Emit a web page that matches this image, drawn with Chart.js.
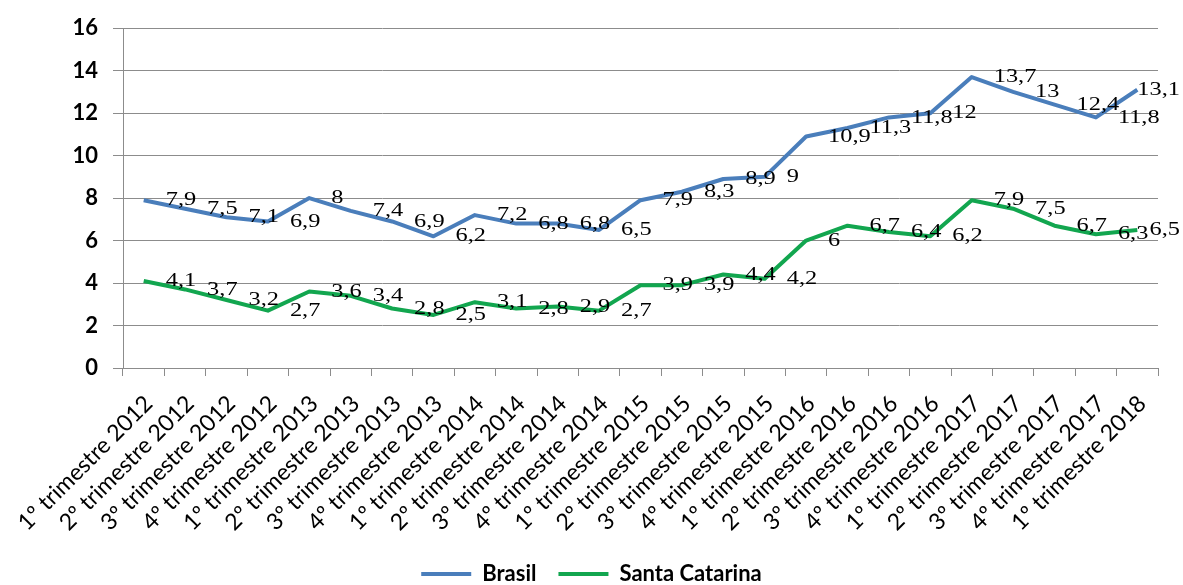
<!DOCTYPE html>
<html>
<head>
<meta charset="utf-8">
<title>Brasil x Santa Catarina</title>
<script src="https://cdn.jsdelivr.net/npm/chart.js@4/dist/chart.umd.min.js"></script>
<style>
  html, body { margin: 0; padding: 0; background: #fff; }
  #wrap { width: 1183px; height: 585px; position: relative; }
</style>
</head>
<body>
<div id="wrap"><canvas id="myChart"></canvas></div>
<script>
// quarters on the x axis
const categories = [
    '1º trimestre 2012', '2º trimestre 2012', '3º trimestre 2012', '4º trimestre 2012',
    '1º trimestre 2013', '2º trimestre 2013', '3º trimestre 2013', '4º trimestre 2013',
    '1º trimestre 2014', '2º trimestre 2014', '3º trimestre 2014', '4º trimestre 2014',
    '1º trimestre 2015', '2º trimestre 2015', '3º trimestre 2015', '4º trimestre 2015',
    '1º trimestre 2016', '2º trimestre 2016', '3º trimestre 2016', '4º trimestre 2016',
    '1º trimestre 2017', '2º trimestre 2017', '3º trimestre 2017', '4º trimestre 2017',
    '1º trimestre 2018'
];

const brasil = [7.9, 7.5, 7.1, 6.9, 8, 7.4, 6.9, 6.2, 7.2, 6.8, 6.8, 6.5,
    7.9, 8.3, 8.9, 9, 10.9, 11.3, 11.8, 12, 13.7, 13, 12.4, 11.8, 13.1];

const santaCatarina = [4.1, 3.7, 3.2, 2.7, 3.6, 3.4, 2.8, 2.5, 3.1, 2.8, 2.9, 2.7,
    3.9, 3.9, 4.4, 4.2, 6, 6.7, 6.4, 6.2, 7.9, 7.5, 6.7, 6.3, 6.5];

// y axis range
const yMin = 0;
const yMax = 16;
const yStep = 2;

const GRID = '#8c8c8c';

// value next to every point, written with a decimal comma
const valueLabels = {
    id: 'valueLabels',
    afterDatasetsDraw(chart) {
        const ctx = chart.ctx;
        const stretch = 1.25;
        ctx.save();
        ctx.font = '19.5px "Liberation Serif"';
        ctx.fillStyle = '#000';
        ctx.textBaseline = 'middle';
        ctx.textAlign = 'left';
        chart.data.datasets.forEach((ds, i) => {
            chart.getDatasetMeta(i).data.forEach((pt, j) => {
                const txt = String(ds.data[j]).replace('.', ',');
                const w = ctx.measureText(txt).width * stretch;
                let x = pt.x + 22;
                if (x + w > chart.width - 3) x = chart.width - 3 - w;
                ctx.save();
                ctx.translate(x, pt.y);
                ctx.scale(stretch, 1);
                ctx.fillText(txt, 0, 0);
                ctx.restore();
            });
        });
        ctx.restore();
    }
};

const ctx = document.getElementById('myChart');
new Chart(ctx, {
    type: 'line',
    data: {
        labels: categories,
        datasets: [{
            label: 'Brasil',
            data: brasil,
            borderColor: '#4a7ebb',
            backgroundColor: '#4a7ebb',
            borderWidth: 4,
            pointRadius: 0,
            pointStyle: 'line',
            borderJoinStyle: 'round',
            tension: 0
        }, {
            label: 'Santa Catarina',
            data: santaCatarina,
            borderColor: '#12a64f',
            backgroundColor: '#12a64f',
            borderWidth: 4,
            pointRadius: 0,
            pointStyle: 'line',
            borderJoinStyle: 'round',
            tension: 0
        }]
    },
    plugins: [valueLabels],
    options: {
        responsive: true,
        maintainAspectRatio: false,
        animation: false,
        layout: {
            padding: { left: 0, right: 0, top: 27, bottom: -10 }
        },
        plugins: {
            tooltip: { enabled: false },
            legend: {
                position: 'bottom',
                labels: {
                    usePointStyle: true,
                    pointStyleWidth: 50,
                    padding: 22,
                    color: '#000',
                    font: { family: 'Lato', size: 22, weight: 'bold' }
                }
            }
        },
        scales: {
            x: {
                offset: true,
                afterFit(scale) { scale.height = 173; },
                grid: {
                    offset: true,
                    drawOnChartArea: false,
                    drawTicks: true,
                    tickLength: 8,
                    color: GRID
                },
                border: { color: GRID, width: 1 },
                ticks: {
                    autoSkip: false,
                    minRotation: 45,
                    maxRotation: 45,
                    padding: 14,
                    labelOffset: 5,
                    color: '#000',
                    font: { family: 'Lato', size: 23 }
                }
            },
            y: {
                min: yMin,
                max: yMax,
                afterFit(scale) { scale.width = 123; },
                grid: {
                    color: GRID,
                    tickLength: 10
                },
                border: { color: GRID, width: 1 },
                ticks: {
                    stepSize: yStep,
                    padding: 15,
                    color: '#000',
                    font: { family: 'Lato', size: 22, weight: 'bold' }
                }
            },
            // empty strip on the right so the legend stays centred on the page
            yRight: {
                position: 'right',
                min: yMin,
                max: yMax,
                afterFit(scale) { scale.width = 25; },
                grid: { display: false },
                border: { display: false },
                ticks: { display: false }
            }
        }
    }
});
</script>
</body>
</html>
